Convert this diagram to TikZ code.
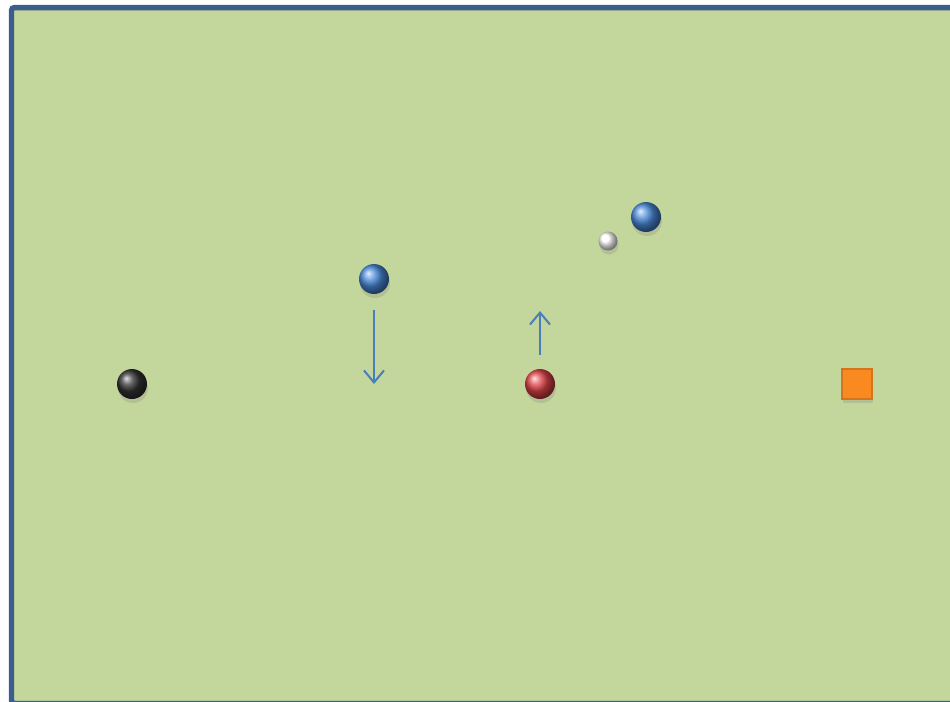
\documentclass[tikz,border=0pt]{standalone}
\usetikzlibrary{arrows.meta, shadows, positioning}

\definecolor{tablegreen}{HTML}{C3D69B}
\definecolor{frameblue}{HTML}{3B5E8C}
\definecolor{arrowblue}{HTML}{4A7EBB}
\definecolor{ballblue}{HTML}{4A8ADA}
\definecolor{ballred}{HTML}{DE4248}
\definecolor{goalorange}{HTML}{F98A22}

\begin{document}
\begin{tikzpicture}[
    x=0.02cm, y=-0.02cm,
    ball/.style={circle, inner sep=0pt, minimum size=0.6cm, shading=ball,
        drop shadow={shadow xshift=0.02cm, shadow yshift=-0.08cm, opacity=0.25}},
    arrow/.style={-{Straight Barb[length=0.24cm, width=0.4cm]}, arrowblue, line width=0.04cm}
]
    \useasboundingbox (0,0) rectangle (950,701);
    \clip (0,0) rectangle (950,701);

    % table
    \draw[frameblue, line width=0.11cm, fill=tablegreen, rounded corners=0.06cm]
        (11.5,7.5) rectangle (980,703.5);

    % balls
    \node[ball, ball color=black!80] (blackball) at (132,384) {};
    \node[ball, ball color=ballblue] (blueleft) at (374,279) {};
    \node[ball, ball color=ballred] (redball) at (540,384) {};
    \node[ball, ball color=ballblue] (blueright) at (646,217) {};
    \node[ball, ball color=white, minimum size=0.38cm] (whiteball) at (608,241) {};

    % goal
    \node[draw=goalorange!85!black, line width=0.03cm, fill=goalorange, minimum size=0.6cm, inner sep=0pt,
        drop shadow={shadow xshift=0.02cm, shadow yshift=-0.08cm, opacity=0.25}] (goal) at (857,384) {};

    % arrows
    \coordinate (downend) at (374,384);
    \coordinate (upend) at (540,311);
    \draw[arrow] ([yshift=-0.32cm]blueleft.south) -- (downend);
    \draw[arrow] ([yshift=0.28cm]redball.north) -- (upend);
\end{tikzpicture}
\end{document}
